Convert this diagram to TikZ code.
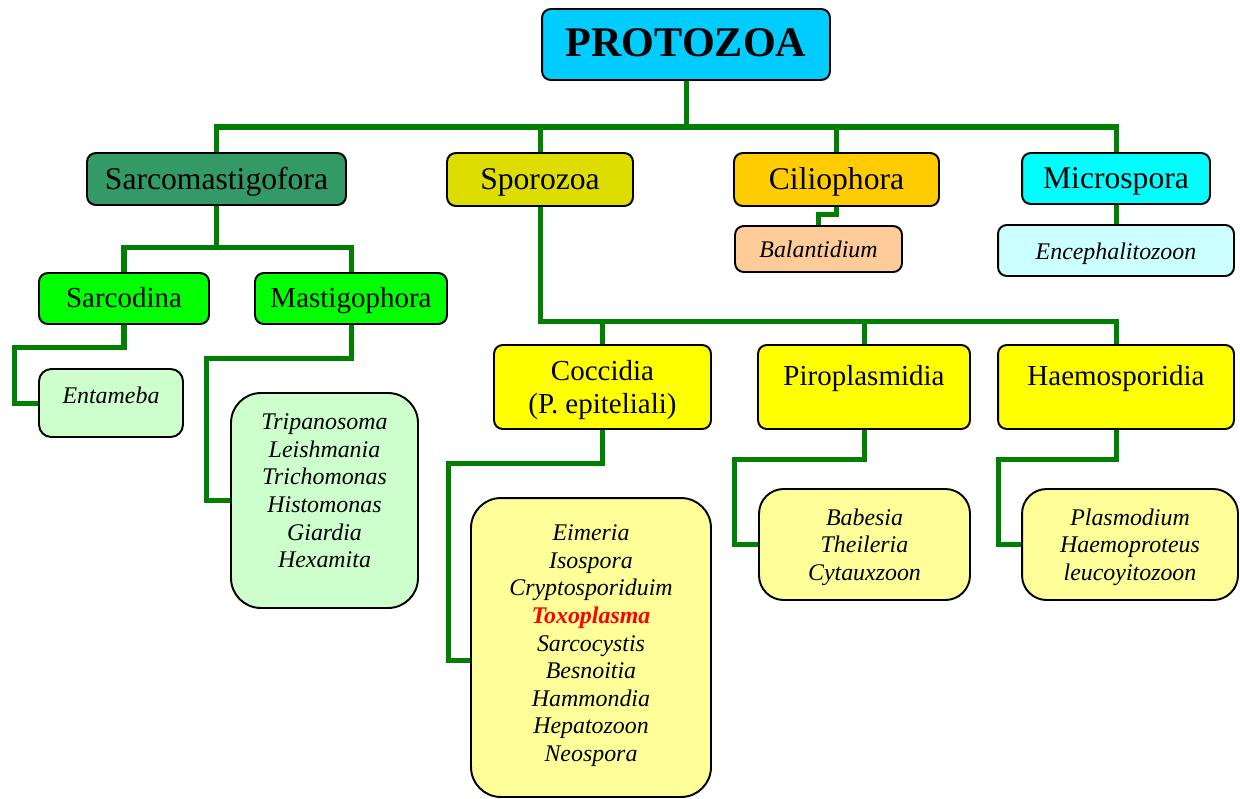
\documentclass[tikz,border=0pt]{standalone}
\usepackage{fontspec}
\setmainfont{Liberation Serif}
\usetikzlibrary{backgrounds}

\definecolor{rootblue}{HTML}{00CCFF}
\definecolor{sarcogreen}{HTML}{339966}
\definecolor{sporoyellow}{HTML}{DDDD00}
\definecolor{ciliorange}{HTML}{FFCC00}
\definecolor{microcyan}{HTML}{00FFFF}
\definecolor{brightgreen}{HTML}{00FF00}
\definecolor{classyellow}{HTML}{FFFF00}
\definecolor{peach}{HTML}{FFCC99}
\definecolor{palecyan}{HTML}{CCFFFF}
\definecolor{palegreen}{HTML}{CCFFCC}
\definecolor{paleyellow}{HTML}{FFFF99}
\definecolor{linkgreen}{HTML}{008000}

\tikzset{
  box/.style={draw=black, line width=1.1pt, rounded corners=5pt, inner sep=2pt},
  phylum/.style={box, font=\fontsize{18}{21}\selectfont, text height=14pt, text depth=2.6pt},
  klass/.style={box, font=\fontsize{16.5}{19}\selectfont},
  genus/.style={box, font=\fontsize{13.6}{15.7}\selectfont\itshape},
  list/.style={align=center},
  link/.style={draw=linkgreen, line width=2.85pt},
}

\begin{document}
\begin{tikzpicture}[x=0.02cm,y=-0.02cm]
\useasboundingbox (0,0) rectangle (1240,798);

% root
\node[box, fill=rootblue, minimum width=5.76cm, minimum height=1.42cm, font=\fontsize{24}{28}\selectfont\bfseries, text height=16pt, text depth=1.8pt] (protozoa) at (686,44.5) {PROTOZOA};

% phyla
\node[phylum, fill=sarcogreen, minimum width=5.18cm, minimum height=1.04cm] (sarcomast) at (216.5,179) {Sarcomastigofora};
\node[phylum, fill=sporoyellow, minimum width=3.72cm, minimum height=1.06cm] (sporozoa) at (540,179.5) {Sporozoa};
\node[phylum, fill=ciliorange, minimum width=4.10cm, minimum height=1.06cm] (ciliophora) at (836.5,179.5) {Ciliophora};
\node[phylum, fill=microcyan, minimum width=3.76cm, minimum height=1.02cm] (microspora) at (1116,178.5) {Microspora};

% classes
\node[klass, fill=brightgreen, minimum width=3.40cm, minimum height=1.02cm, text height=13.5pt, text depth=2.7pt] (sarcodina) at (124,298.5) {Sarcodina};
\node[klass, fill=brightgreen, minimum width=3.84cm, minimum height=1.02cm, text height=13.5pt, text depth=2.7pt] (mastigo) at (351,298.5) {Mastigophora};
\node[klass, list, fill=classyellow, minimum width=4.34cm, minimum height=1.68cm, text depth=0pt] (coccidia) at (602.5,387) {Coccidia\\(P. epiteliali)};
\node[klass, fill=classyellow, minimum width=4.24cm, minimum height=1.68cm, text height=12pt, text depth=13.5pt] (piroplasm) at (864,387) {Piroplasmidia};
\node[klass, fill=classyellow, minimum width=4.72cm, minimum height=1.68cm, text height=12pt, text depth=13.5pt] (haemospor) at (1116,387) {Haemosporidia};

% genera
\node[genus, fill=peach, minimum width=3.34cm, minimum height=0.92cm, text height=12pt, text depth=2.3pt] (balantid) at (818.5,249) {Balantidium};
\node[genus, fill=palecyan, minimum width=4.72cm, minimum height=1.02cm, text height=12pt, text depth=2.3pt] (encephal) at (1116,250.5) {Encephalitozoon};
\node[genus, fill=palegreen, minimum width=2.88cm, minimum height=1.36cm, rounded corners=7pt, text height=10pt, text depth=9pt] (entameba) at (111,403) {Entameba};
\node[genus, list, fill=palegreen, minimum width=3.74cm, minimum height=4.30cm, rounded corners=17pt, text depth=11pt] (flagell) at (324.5,500.5)
  {Tripanosoma\\Leishmania\\Trichomonas\\Histomonas\\Giardia\\Hexamita};
\node[genus, list, fill=paleyellow, minimum width=4.80cm, minimum height=5.98cm, rounded corners=17pt, text depth=5pt] (coccgen) at (591,647.5)
  {Eimeria\\Isospora\\Cryptosporiduim\\\textcolor{red}{\bfseries Toxoplasma}\\Sarcocystis\\Besnoitia\\Hammondia\\Hepatozoon\\Neospora};
\node[genus, list, fill=paleyellow, minimum width=4.22cm, minimum height=2.22cm, rounded corners=14pt, text depth=0pt] (pirogen) at (864.5,544.5) {Babesia\\Theileria\\Cytauxzoon};
\node[genus, list, fill=paleyellow, minimum width=4.32cm, minimum height=2.22cm, rounded corners=14pt, text depth=0pt] (haemogen) at (1130,544.5) {Plasmodium\\Haemoproteus\\leucoyitozoon};

% connectors
\begin{scope}[on background layer]
  \coordinate (bus) at (0,127);
  \coordinate (sbus) at (0,247);
  \coordinate (pbus) at (0,321);
  \draw[link] (protozoa.south) -- (protozoa.south |- bus);
  \draw[link] (sarcomast.north) |- (microspora.north |- bus) -- (microspora.north);
  \draw[link] (sporozoa.north) -- (sporozoa.north |- bus);
  \draw[link] (ciliophora.north) -- (ciliophora.north |- bus);

  \draw[link] (sarcomast.south) -- (sarcomast.south |- sbus);
  \draw[link] (sarcodina.north) |- (mastigo.north |- sbus) -- (mastigo.north);

  \draw[link] (sporozoa.south) |- (haemospor.north |- pbus) -- (haemospor.north);
  \draw[link] (coccidia.north) -- (coccidia.north |- pbus);
  \draw[link] (piroplasm.north) -- (piroplasm.north |- pbus);

  \draw[link] (ciliophora.south) -- ++(0,8) -| (balantid.north);
  \draw[link] (microspora.south) -- (encephal.north);

  \draw[link] (sarcodina.south) -- ++(0,23) -| ([xshift=-0.48cm]entameba.west) -- (entameba.west);
  \draw[link] (mastigo.south) -- ++(0,34) -| ([xshift=-0.48cm]flagell.west) -- (flagell.west);
  \draw[link] (coccidia.south) -- ++(0,34) -| ([xshift=-0.44cm,yshift=-0.26cm]coccgen.west) -- ([yshift=-0.26cm]coccgen.west);
  \draw[link] (piroplasm.south) -- ++(0,30) -| ([xshift=-0.48cm]pirogen.west) -- (pirogen.west);
  \draw[link] (haemospor.south) -- ++(0,30) -| ([xshift=-0.46cm]haemogen.west) -- (haemogen.west);
\end{scope}
\end{tikzpicture}
\end{document}
